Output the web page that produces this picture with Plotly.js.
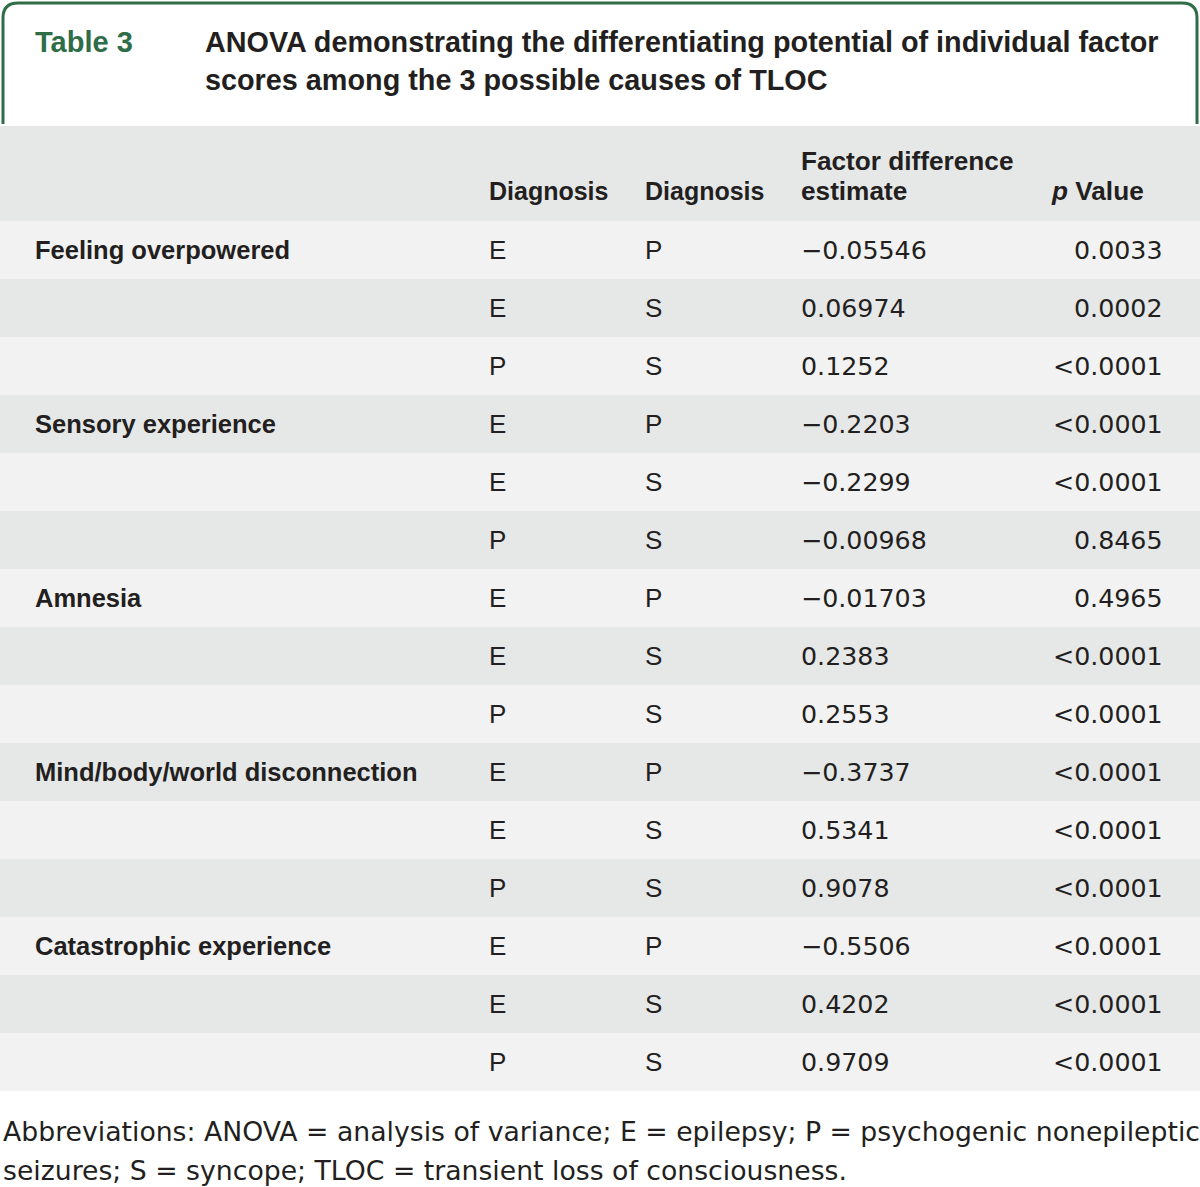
<!DOCTYPE html>
<html>
<head>
<meta charset="utf-8">
<script src="https://cdn.plot.ly/plotly-3.0.1.min.js"></script>
<style>html,body{margin:0;padding:0;background:#fff;}#chart{width:1200px;height:1187px;}</style>
</head>
<body>
<div id="chart"></div>
<script>
// ---- data ----
const tableLabel = 'Table 3';
const titleLines = ['ANOVA demonstrating the differentiating potential of individual factor', 'scores among the 3 possible causes of TLOC'];
const headerCols = ['Diagnosis', 'Diagnosis', 'Factor difference', 'estimate', '<i>p</i> Value'];
const factorLabels = ['Feeling overpowered', '', '', 'Sensory experience', '', '', 'Amnesia', '', '', 'Mind/body/world disconnection', '', '', 'Catastrophic experience', '', ''];
const diagnosisA = ['E', 'E', 'P', 'E', 'E', 'P', 'E', 'E', 'P', 'E', 'E', 'P', 'E', 'E', 'P'];
const diagnosisB = ['P', 'S', 'S', 'P', 'S', 'S', 'P', 'S', 'S', 'P', 'S', 'S', 'P', 'S', 'S'];
const estimates = ['\u22120.05546', '0.06974', '0.1252', '\u22120.2203', '\u22120.2299', '\u22120.00968', '\u22120.01703', '0.2383', '0.2553', '\u22120.3737', '0.5341', '0.9078', '\u22120.5506', '0.4202', '0.9709'];
const pValues = ['0.0033', '0.0002', '&lt;0.0001', '&lt;0.0001', '&lt;0.0001', '0.8465', '0.4965', '&lt;0.0001', '&lt;0.0001', '&lt;0.0001', '&lt;0.0001', '&lt;0.0001', '&lt;0.0001', '&lt;0.0001', '&lt;0.0001'];
const footnoteLines = ['Abbreviations: ANOVA = analysis of variance; E = epilepsy; P = psychogenic nonepileptic', 'seizures; S = syncope; TLOC = transient loss of consciousness.'];

// ---- styling / layout helpers ----
const W = 1200, H = 1187;
const ROW_H = 58, ROW0 = 250;           // pixel centre of first row
const py = p => (p - ROW0) / ROW_H;     // pixel -> row units
const FONT = 'Liberation Sans, Arial, sans-serif';
const NUMFONT = 'DejaVu Sans, sans-serif';
const TXT = '#231f20';
const GREEN = '#2f6d48';
const LIGHT = '#f2f2f2', DARK = '#e6e7e7';

const rows = diagnosisA.map((_, i) => i);
const stripeColors = rows.map(i => (i % 2 === 0 ? LIGHT : DARK));

const traces = [{
  type: 'bar',
  orientation: 'h',
  y: rows,
  x: rows.map(() => W),
  base: 0,
  width: 1,
  marker: {color: stripeColors, line: {width: 0}},
  hoverinfo: 'skip',
  showlegend: false
}];

const ann = [];
function add(text, x, y, anchor, font) {
  ann.push({
    text: text, x: x, y: y, xref: 'x', yref: 'y',
    xanchor: anchor, yanchor: 'middle', showarrow: false,
    font: Object.assign({family: FONT, size: 26, color: TXT}, font || {})
  });
}

// title block
add('<b>' + tableLabel + '</b>', 33, py(42), 'left', {size: 29, color: GREEN});
titleLines.forEach((t, k) => add('<b>' + t + '</b>', 203, py(42 + 38 * k), 'left', {size: 28.8}));

// header
add('<b>' + headerCols[0] + '</b>', 487, py(191), 'left', {size: 25});
add('<b>' + headerCols[1] + '</b>', 643, py(191), 'left', {size: 25});
add('<b>' + headerCols[2] + '</b>', 799, py(161), 'left', {size: 26.2});
add('<b>' + headerCols[3] + '</b>', 799, py(191), 'left', {size: 26.2});
add('<b>' + headerCols[4] + '</b>', 1146, py(191), 'right', {size: 26.2});

// body
rows.forEach(i => {
  if (factorLabels[i]) add('<b>' + factorLabels[i] + '</b>', 33, i, 'left', {size: 25.5});
  add(diagnosisA[i], 487, i, 'left', {size: 26});
  add(diagnosisB[i], 643, i, 'left', {size: 26});
  add(estimates[i], 799, i, 'left', {family: NUMFONT, size: 25.3});
  add(pValues[i], 1165, i, 'right', {family: NUMFONT, size: 25.3});
});

// footnote
footnoteLines.forEach((t, k) => add(t, 0.5, py(1131 + 39 * k), 'left', {family: NUMFONT, size: 26.7}));

const shapes = [
  {type: 'rect', xref: 'x', yref: 'y', x0: 0, x1: W, y0: py(126), y1: -0.5, fillcolor: DARK, line: {width: 0}, layer: 'below'},
  {type: 'path', xref: 'x', yref: 'y',
   path: 'M 3,' + py(124) + ' L 3,' + py(18) + ' Q 3,' + py(3) + ' 18,' + py(3) + ' L 1182,' + py(3) + ' Q 1197,' + py(3) + ' 1197,' + py(18) + ' L 1197,' + py(124),
   line: {color: GREEN, width: 3}, fillcolor: 'rgba(0,0,0,0)'}
];

const layout = {
  width: W, height: H,
  margin: {l: 0, r: 0, t: 0, b: 0},
  paper_bgcolor: '#ffffff', plot_bgcolor: '#ffffff',
  xaxis: {range: [0, W], visible: false, fixedrange: true},
  yaxis: {range: [py(H), py(0)], visible: false, fixedrange: true},
  bargap: 0,
  annotations: ann,
  shapes: shapes,
  showlegend: false
};

Plotly.newPlot('chart', traces, layout, {displayModeBar: false, staticPlot: true});
</script>
</body>
</html>
